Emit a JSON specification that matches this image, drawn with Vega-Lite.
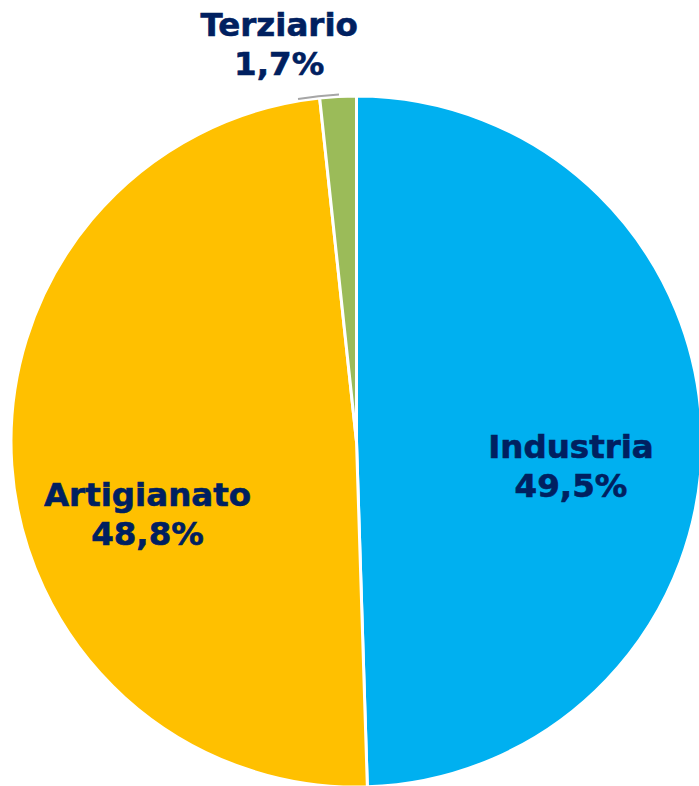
{
  "$schema": "https://vega.github.io/schema/vega-lite/v6.json",
  "width": 689,
  "height": 689,
  "padding": {"left": 12, "top": 97, "right": 0, "bottom": 0},
  "autosize": {"type": "none"},
  "background": "white",
  "data": {"values": [
    {"categoria": "Industria", "valore": 49.5, "etichetta": "Industria\n49,5%"},
    {"categoria": "Artigianato", "valore": 48.8, "etichetta": "Artigianato\n48,8%"},
    {"categoria": "Terziario", "valore": 1.7, "etichetta": "Terziario\n1,7%"}
  ]},
  "layer": [
    {
      "mark": {"type": "arc", "outerRadius": 345.5, "stroke": "white", "strokeWidth": 3},
      "encoding": {
        "theta": {"field": "valore", "type": "quantitative", "stack": true},
        "order": {"field": "valore", "sort": "descending"},
        "color": {"field": "categoria", "type": "nominal",
          "scale": {"domain": ["Industria", "Artigianato", "Terziario"], "range": ["#00B0F0", "#FFC000", "#9BBB59"]},
          "legend": null}
      }
    },
    {
      "data": {"values": [{"tipo": "leader"}]},
      "mark": {"type": "arc", "theta": -0.1691, "theta2": -0.0504, "radius": 346.5, "radius2": 348.5, "fill": "#A6A6A6"},
      "encoding": {}
    },
    {
      "mark": {"type": "text", "radius": 215, "dx": -0.5, "dy": 20, "font": "DejaVu Sans", "fontWeight": "bold", "fontSize": 32.5, "fill": "#002060", "stroke": "#002060", "strokeWidth": 0.6, "lineBreak": "\n", "lineHeight": 39, "align": "center", "baseline": "alphabetic"},
      "encoding": {
        "theta": {"field": "valore", "type": "quantitative", "stack": true},
        "order": {"field": "valore", "sort": "descending"},
        "text": {"condition": {"test": "datum.categoria === 'Industria'", "field": "etichetta"}, "value": ""}
      }
    },
    {
      "mark": {"type": "text", "radius": 215, "dx": 5.5, "dy": 50, "font": "DejaVu Sans", "fontWeight": "bold", "fontSize": 32.5, "fill": "#002060", "stroke": "#002060", "strokeWidth": 0.6, "lineBreak": "\n", "lineHeight": 39, "align": "center", "baseline": "alphabetic"},
      "encoding": {
        "theta": {"field": "valore", "type": "quantitative", "stack": true},
        "order": {"field": "valore", "sort": "descending"},
        "text": {"condition": {"test": "datum.categoria === 'Artigianato'", "field": "etichetta"}, "value": ""}
      }
    },
    {
      "mark": {"type": "text", "radius": 400, "dx": -56, "dy": -6, "font": "DejaVu Sans", "fontWeight": "bold", "fontSize": 32.5, "fill": "#002060", "stroke": "#002060", "strokeWidth": 0.6, "lineBreak": "\n", "lineHeight": 39, "align": "center", "baseline": "alphabetic"},
      "encoding": {
        "theta": {"field": "valore", "type": "quantitative", "stack": true},
        "order": {"field": "valore", "sort": "descending"},
        "text": {"condition": {"test": "datum.categoria === 'Terziario'", "field": "etichetta"}, "value": ""}
      }
    }
  ],
  "config": {"view": {"stroke": null}}
}
